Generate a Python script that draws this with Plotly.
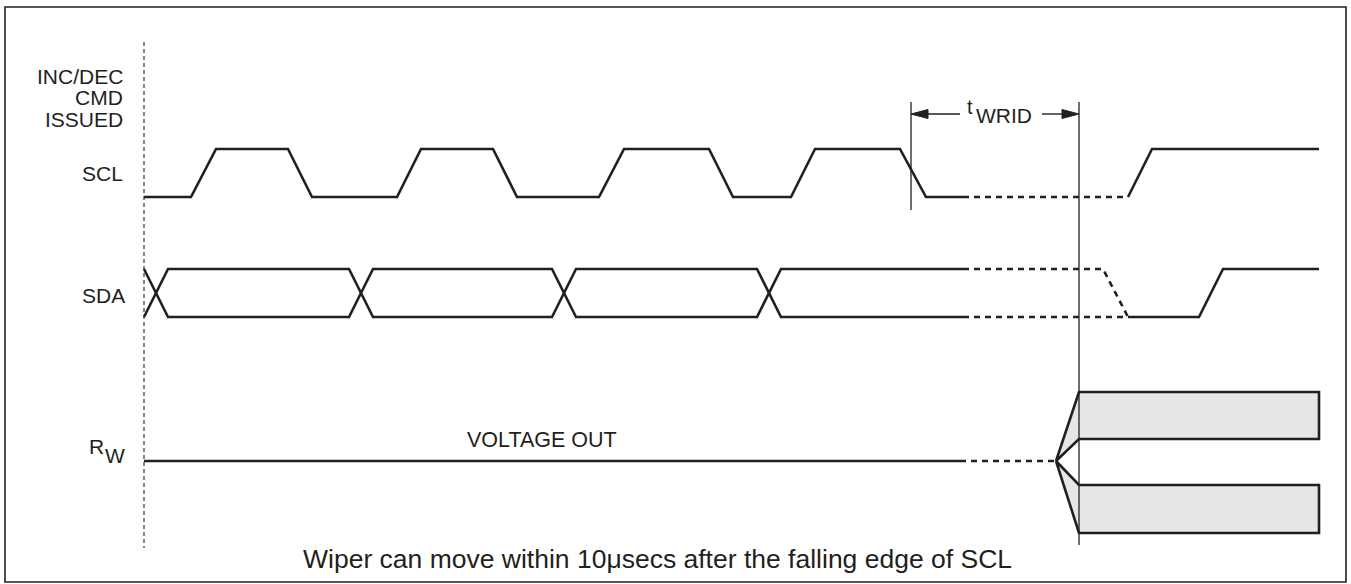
import plotly.graph_objects as go

# ---- timing data (time axis in diagram units) ----
SCL_T = [144, 191, 216, 288, 312, 397, 421, 493, 517, 599, 624, 709, 733, 791, 815, 900, 926, 963]
SCL_V = [0, 0, 1, 1, 0, 0, 1, 1, 0, 0, 1, 1, 0, 0, 1, 1, 0, 0]
SCL_DASH_T = [963, 1128]
SCL_DASH_V = [0, 0]
SCL_END_T = [1128, 1152, 1319]
SCL_END_V = [0, 1, 1]

SDA_T = [144, 168, 349, 373, 552, 576, 757, 781, 963]
SDA_V = [1, 0, 0, 1, 1, 0, 0, 1, 1]
SDA_DASH_HI_T = [963, 1103, 1128]
SDA_DASH_HI_V = [1, 1, 0]
SDA_DASH_LO_T = [963, 1128]
SDA_DASH_LO_V = [0, 0]
SDA_END_T = [1128, 1199, 1223, 1319]
SDA_END_V = [0, 0, 1, 1]

RW_SOLID_T = [144, 960]
RW_DASH_T = [960, 1056]
RW_FAN_T = [1056, 1079, 1319]

CMD_T = 144
TWRID_T = [911, 1079]

LABELS = ["INC/DEC", "CMD", "ISSUED"]
CAPTION = "Wiper can move within 10μsecs after the falling edge of SCL"

# ---- lane geometry (pixels) ----
SCL_HI, SCL_LO = 149, 197
SDA_HI, SDA_LO = 269, 317
RW_Y = 461
BOX_TOP = (392, 439)
BOX_BOT = (485, 533)

INK = "#231f20"
LW = 2.6
FONT = "Liberation Sans, Arial, Helvetica, sans-serif"


def lvl(vals, hi, lo):
    return [lo - v * (lo - hi) for v in vals]


fig = go.Figure()


def line(x, y, dash=None, width=LW, color=INK):
    fig.add_trace(go.Scatter(x=x, y=y, mode="lines",
                             line=dict(color=color, width=width, dash=dash),
                             hoverinfo="skip", showlegend=False))


DASH = "6px,5px"

# SCL
line(SCL_T, lvl(SCL_V, SCL_HI, SCL_LO))
line(SCL_DASH_T, lvl(SCL_DASH_V, SCL_HI, SCL_LO), dash=DASH)
line(SCL_END_T, lvl(SCL_END_V, SCL_HI, SCL_LO))

# SDA (two complementary rails)
line(SDA_T, lvl(SDA_V, SDA_HI, SDA_LO))
line(SDA_T, lvl([1 - v for v in SDA_V], SDA_HI, SDA_LO))
line(SDA_DASH_HI_T, lvl(SDA_DASH_HI_V, SDA_HI, SDA_LO), dash=DASH)
line(SDA_DASH_LO_T, lvl(SDA_DASH_LO_V, SDA_HI, SDA_LO), dash=DASH)
line(SDA_END_T, lvl(SDA_END_V, SDA_HI, SDA_LO))

# RW
line(RW_SOLID_T, [RW_Y, RW_Y])
line(RW_DASH_T, [RW_Y, RW_Y], dash=DASH)

a, b, c = RW_FAN_T
for top, bot in (BOX_TOP, BOX_BOT):
    fig.add_trace(go.Scatter(
        x=[a, b, c, c, b, a], y=[RW_Y, top, top, bot, bot, RW_Y],
        mode="lines", fill="toself", fillcolor="#e6e6e6",
        line=dict(color=INK, width=LW), hoverinfo="skip", showlegend=False))

# vertical reference lines
line([CMD_T, CMD_T], [42, 548], dash="4px,3px", width=1.1)
line([TWRID_T[0], TWRID_T[0]], [102, 210], width=1.3)
line([TWRID_T[1], TWRID_T[1]], [102, 545], width=1.3)

# tWRID arrows
AY = 114
line([TWRID_T[0] + 10, 960], [AY, AY], width=1.4)
line([1042, TWRID_T[1] - 10], [AY, AY], width=1.4)
for tip, d in ((TWRID_T[0], 1), (TWRID_T[1], -1)):
    fig.add_trace(go.Scatter(
        x=[tip, tip + d * 17, tip + d * 17, tip], y=[AY, AY - 4.5, AY + 4.5, AY],
        mode="lines", fill="toself", fillcolor=INK, line=dict(color=INK, width=1),
        hoverinfo="skip", showlegend=False))

ann = []


def text(x, y, s, size=21, xa="center", ya="middle"):
    ann.append(dict(x=x, y=y, text=s, showarrow=False, xanchor=xa, yanchor=ya,
                    font=dict(family=FONT, size=size, color=INK)))


for i, s in enumerate(LABELS):
    text(125, 76 + i * 21.5, s, xa="right")
text(125, 173, "SCL", xa="right")
text(127, 295, "SDA", xa="right")
text(106, 446, "R", xa="right")
text(103, 455, "W", xa="left")
text(542, 440, "VOLTAGE OUT", size=21.5)
text(970, 107, "t", size=20)
text(1004, 115, "WRID", size=21)
text(657, 559, CAPTION, size=26.5)

fig.update_layout(
    width=1351, height=584,
    margin=dict(l=0, r=0, t=0, b=0),
    paper_bgcolor="white", plot_bgcolor="white",
    xaxis=dict(range=[0, 1351], visible=False, fixedrange=True),
    yaxis=dict(range=[584, 0], visible=False, fixedrange=True),
    annotations=ann,
    shapes=[dict(type="rect", xref="x", yref="y", x0=5, y0=7, x1=1346, y1=582,
                 line=dict(color=INK, width=1.6))],
)

fig.write_html("out.html", config={"displayModeBar": False},
               post_script="document.body.style.margin='0';")
